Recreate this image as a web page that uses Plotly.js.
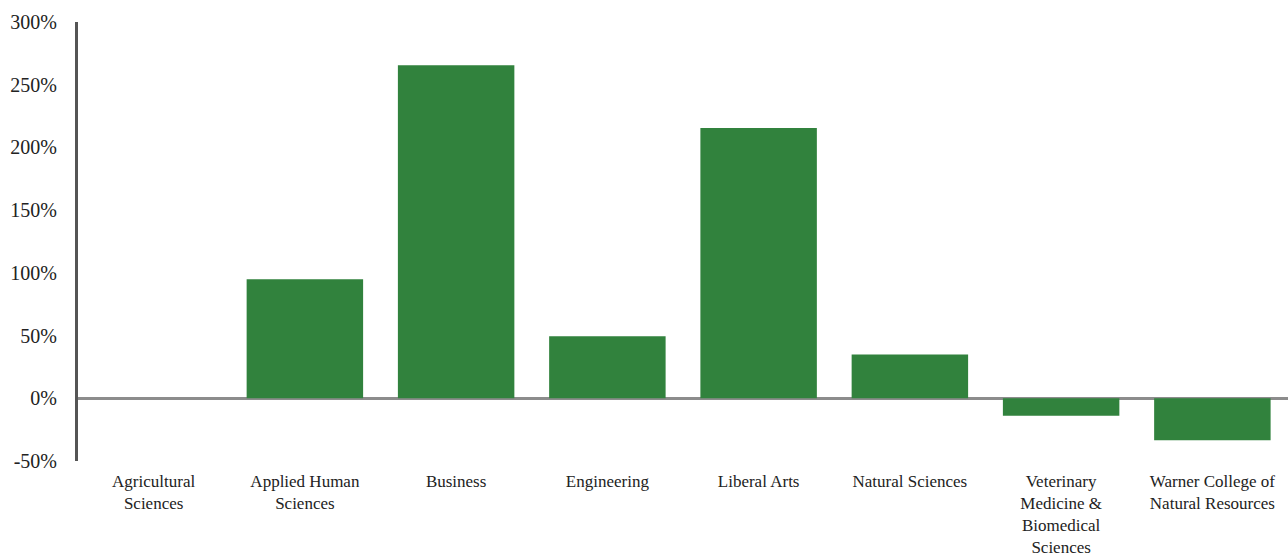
<!DOCTYPE html>
<html>
<head>
<meta charset="utf-8">
<script src="https://cdn.plot.ly/plotly-3.0.1.min.js"></script>
<style>html,body{margin:0;padding:0;background:#fff;}#chart{width:1288px;height:558px;}</style>
</head>
<body>
<div id="chart"></div>
<script>
const categories = [
  "Agricultural<br>Sciences",
  "Applied Human<br>Sciences",
  "Business",
  "Engineering",
  "Liberal Arts",
  "Natural Sciences",
  "Veterinary<br>Medicine &<br>Biomedical<br>Sciences",
  "Warner College of<br>Natural Resources"
];
const values = [0, 95, 265.5, 49.5, 215.5, 35, -14, -33.5];
const tickVals = [-50, 0, 50, 100, 150, 200, 250, 300];
const tickText = ["-50%", "0%", "50%", "100%", "150%", "200%", "250%", "300%"];

const serif = "'Liberation Serif', 'Times New Roman', serif";

Plotly.newPlot("chart", [{
  type: "bar",
  x: categories,
  y: values,
  marker: {color: "#31823D", line: {width: 0}},
  hoverinfo: "none"
}], {
  width: 1288,
  height: 558,
  margin: {l: 78, r: 0, t: 22, b: 97},
  paper_bgcolor: "#fff",
  plot_bgcolor: "#fff",
  bargap: 0.23,
  showlegend: false,
  xaxis: {
    type: "category",
    showgrid: false,
    showline: false,
    zeroline: false,
    ticks: "",
    tickfont: {family: serif, size: 17, color: "#222"},
    ticklabelstandoff: 8
  },
  yaxis: {
    range: [-50, 300],
    tickvals: tickVals,
    ticktext: tickText,
    showgrid: false,
    showline: true,
    linecolor: "#555555",
    linewidth: 3,
    zeroline: true,
    zerolinecolor: "#8c8c8c",
    zerolinewidth: 3,
    ticks: "",
    ticklabelstandoff: 14,
    tickfont: {family: serif, size: 20, color: "#222"}
  }
}, {staticPlot: true});
</script>
</body>
</html>
